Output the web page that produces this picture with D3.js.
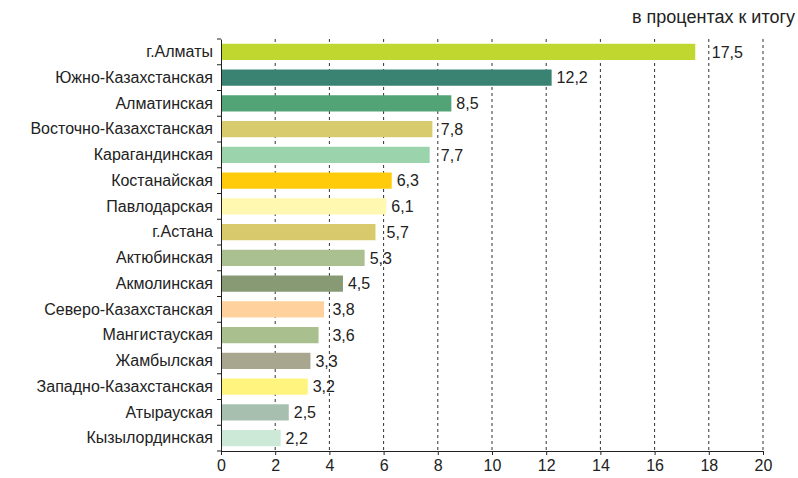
<!DOCTYPE html>
<html><head><meta charset="utf-8">
<script src="https://cdn.jsdelivr.net/npm/d3@7"></script>
<style>body{margin:0;background:#fff}svg{display:block}text{font-family:"Liberation Sans",Arial,sans-serif;fill:#222}</style>
</head><body>
<svg id="c" width="798" height="478"></svg>
<script>
const categories = ["г.Алматы","Южно-Казахстанская","Алматинская","Восточно-Казахстанская","Карагандинская","Костанайская","Павлодарская","г.Астана","Актюбинская","Акмолинская","Северо-Казахстанская","Мангистауская","Жамбылская","Западно-Казахстанская","Атырауская","Кызылординская"];
const values = [17.5,12.2,8.5,7.8,7.7,6.3,6.1,5.7,5.3,4.5,3.8,3.6,3.3,3.2,2.5,2.2];
const colors = ["#c0d72f","#3a8373","#52a375","#d8cb6e","#9bd3ac","#ffcb0a","#fff8b0","#d8ca6c","#abc090","#889a74","#ffd19c","#a9c08e","#a8a68e","#fff47e","#a6bfae","#cce8d6"];
const xTicks = [0,2,4,6,8,10,12,14,16,18,20];
const unitLabel = "в процентах к итогу";

const svg = d3.select("#c");
const L=221, R=763, T=39, B=451;
const x = d3.scaleLinear().domain([0,20]).range([L,R]);
const y = d3.scaleBand().domain(categories).range([T,B]).paddingInner(0.37).paddingOuter(0.185);

// gridlines
svg.append("g").selectAll("line").data(xTicks.slice(1)).join("line")
  .attr("x1",d=>x(d)).attr("x2",d=>x(d)).attr("y1",T).attr("y2",B)
  .attr("stroke","#333").attr("stroke-width",1).attr("stroke-dasharray","3,3");

// bars
svg.append("g").selectAll("rect").data(values).join("rect")
  .attr("x",x(0)).attr("y",(d,i)=>y(categories[i]))
  .attr("width",d=>x(d)-x(0)).attr("height",y.bandwidth())
  .attr("fill",(d,i)=>colors[i]);

// value labels, nudged past a gridline they would sit on
function labelX(v){
  const x0 = x(v)+5;
  const g = xTicks.map(x).find(gx => gx > x(v) && gx < x0+13);
  return g !== undefined ? g+3 : x0;
}
svg.append("g").selectAll("text").data(values).join("text")
  .attr("x",d=>labelX(d)).attr("y",(d,i)=>y(categories[i])+y.bandwidth()/2)
  .attr("dy","0.36em").attr("font-size",16).text(d=>String(d).replace(".",","));

// x axis
const xa = svg.append("g").attr("transform",`translate(0,${B})`)
  .call(d3.axisBottom(x).tickValues(xTicks).tickSize(4).tickPadding(5).tickFormat(d=>d));
xa.select(".domain").attr("stroke","#222");
xa.selectAll(".tick line").attr("stroke","#222");
xa.selectAll("text").attr("font-size",16).attr("fill","#222").style("font-family","'Liberation Sans',Arial,sans-serif");

// y axis
const ya = svg.append("g").attr("transform",`translate(${L},0)`)
  .call(d3.axisLeft(y).tickSize(0).tickPadding(8));
ya.select(".domain").attr("stroke","#222");
ya.selectAll("text").attr("font-size",16).attr("fill","#222").style("font-family","'Liberation Sans',Arial,sans-serif");
// boundary ticks
const bounds = categories.map(c=>y(c)-y.step()*y.paddingInner()/2).concat([B]);
svg.append("g").selectAll("line").data(bounds).join("line")
  .attr("x1",L-4).attr("x2",L).attr("y1",d=>d).attr("y2",d=>d).attr("stroke","#222");

svg.append("text").attr("x",795).attr("y",23).attr("text-anchor","end").attr("font-size",18).text(unitLabel);
</script>
</body></html>
